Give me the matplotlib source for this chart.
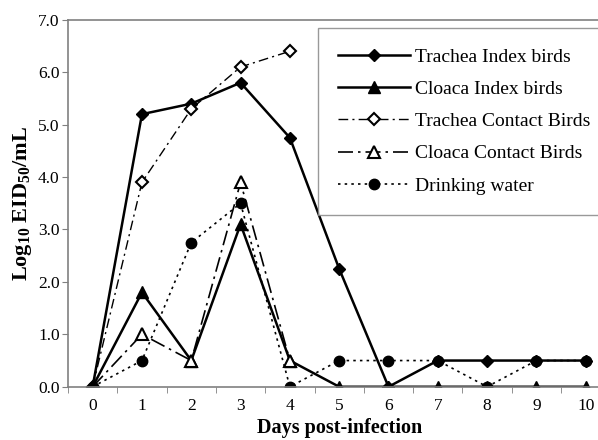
import matplotlib
matplotlib.use('Agg')
import matplotlib.pyplot as plt

# data
days = [0, 1, 2, 3, 4, 5, 6, 7, 8, 9, 10]
trachea_index = [0, 5.2, 5.4, 5.8, 4.75, 2.25, 0, 0.5, 0.5, 0.5, 0.5]
cloaca_index = [0, 1.8, 0.5, 3.1, 0.5, 0, 0, 0, 0, 0, 0]
contact_days = [0, 1, 2, 3, 4]
trachea_contact = [0, 3.9, 5.3, 6.1, 6.4]
cloaca_contact = [0, 1.0, 0.5, 3.9, 0.5]
drinking_water = [0, 0.5, 2.75, 3.5, 0, 0.5, 0.5, 0.5, 0, 0.5, 0.5]
y_ticks = [0, 1, 2, 3, 4, 5, 6, 7]

plt.rcParams['font.family'] = ['Liberation Serif', 'DejaVu Serif']
plt.rcParams['mathtext.default'] = 'regular'

fig = plt.figure(figsize=(5.98, 4.40), dpi=100)
ax = fig.add_axes([0.1137, 0.121, 0.907, 0.834])

ax.plot(days, trachea_index, color='black', lw=1.8, marker='D', ms=6,
        label='Trachea Index birds')
ax.plot(days, cloaca_index, color='black', lw=1.8, marker='^', ms=8,
        label='Cloaca Index birds')
ax.plot(contact_days, trachea_contact, color='black', lw=1.0,
        linestyle=(0, (7, 3, 1.5, 3)), marker='D', ms=6.5, mfc='white',
        mew=1.5, label='Trachea Contact Birds')
ax.plot(contact_days, cloaca_contact, color='black', lw=1.2,
        linestyle=(0, (9, 3, 1.5, 3)), marker='^', ms=8.5, mfc='white',
        mew=1.5, label='Cloaca Contact Birds')
ax.plot(days, drinking_water, color='black', lw=1.2,
        linestyle=(0, (1.5, 2.5)), marker='o', ms=7.5,
        label='Drinking water')

ax.set_xlim(-0.5, 10.5)
ax.set_ylim(0, 7)
ax.set_xticks(days)
ax.set_xticks([d - 0.5 for d in days] + [10.5], minor=True)
ax.set_yticks(y_ticks)
ax.set_yticklabels(['%.1f' % v for v in y_ticks])
ax.tick_params(axis='x', which='major', length=0, pad=8, labelsize=12.5)
ax.tick_params(axis='x', which='minor', length=4, color='#808080')
ax.tick_params(axis='y', length=4, color='#808080', labelsize=12.5, pad=2)

for s in ['top', 'left', 'right', 'bottom']:
    ax.spines[s].set_color('#808080')
    ax.spines[s].set_linewidth(1.2)

ax.set_xlabel('Days post-infection', fontsize=14.5, fontweight='bold', labelpad=3)
ax.set_ylabel('Log$_{10}$ EID$_{50}$/mL', fontsize=16, fontweight='bold', labelpad=3)

leg = ax.legend(loc='upper left', bbox_to_anchor=(0.461, 0.978), fontsize=14,
                frameon=True, fancybox=False, edgecolor='#808080',
                handlelength=3.7, labelspacing=0.75, borderpad=1.05,
                handletextpad=0.25, borderaxespad=0)
leg.get_frame().set_linewidth(1.0)

fig.savefig('out.png', dpi=100)
